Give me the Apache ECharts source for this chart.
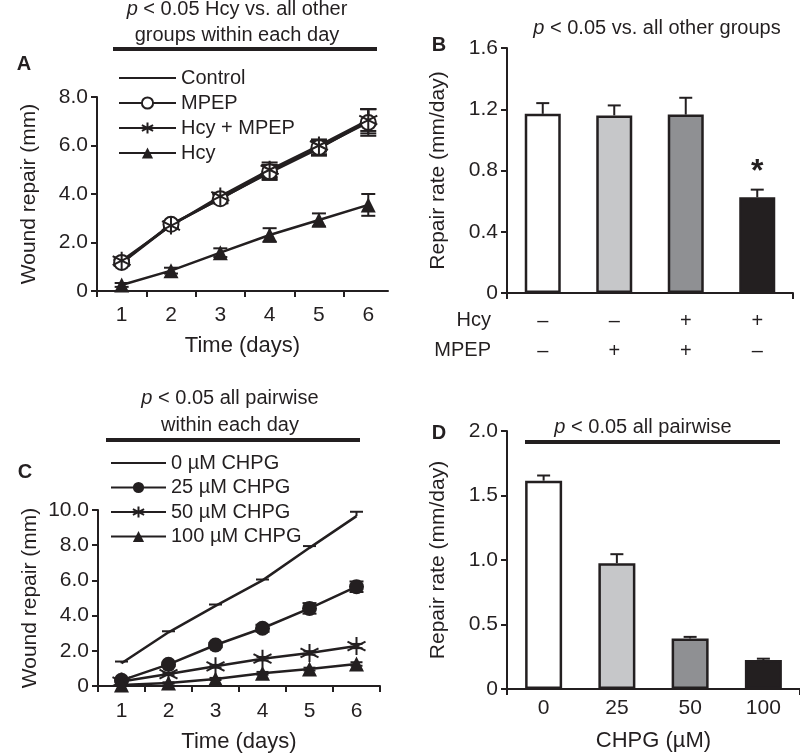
<!DOCTYPE html>
<html>
<head>
<meta charset="utf-8">
<script src="https://cdn.jsdelivr.net/npm/echarts@6/dist/echarts.min.js"></script>
<style>
  html, body { margin: 0; padding: 0; background: #fff; }
  #chart { width: 800px; height: 755px; }
</style>
</head>
<body>
<div id="chart"></div>
<script>
// ---- data ----
const days = [1, 2, 3, 4, 5, 6];

// panel A: wound repair (mm), mean and SE
const controlMean = [1.15, 2.72, 3.82, 4.88, 5.88, 7.0];
const controlErr = [0.12, 0.15, 0.2, 0.3, 0.3, 0.5];
const mpepMean = [1.18, 2.75, 3.8, 4.92, 5.92, 6.95];
const mpepErr = [0.1, 0.12, 0.18, 0.28, 0.28, 0.55];
const hcyMpepMean = [1.25, 2.7, 3.9, 5.0, 6.0, 7.05];
const hcyMpepErr = [0.12, 0.12, 0.15, 0.3, 0.25, 0.45];
const hcyMean = [0.25, 0.84, 1.58, 2.31, 2.93, 3.55];
const hcyErr = [0.08, 0.12, 0.18, 0.28, 0.27, 0.45];

// panel B: repair rate (mm/day)
const groupsB = ['g1', 'g2', 'g3', 'g4'];
const hcySigns = ['–', '–', '+', '+'];
const mpepSigns = ['–', '+', '+', '–'];
const rateB = [1.17, 1.16, 1.165, 0.625];
const rateBErr = [0.07, 0.065, 0.11, 0.05];

// panel C: wound repair with CHPG
const chpg0Mean = [1.29, 3.05, 4.55, 6.0, 7.85, 9.65];
const chpg0Err = [0.1, 0.06, 0.08, 0.05, 0.1, 0.25];
const chpg25Mean = [0.32, 1.23, 2.33, 3.28, 4.41, 5.64];
const chpg25Err = [0.08, 0.1, 0.12, 0.2, 0.3, 0.3];
const chpg50Mean = [0.25, 0.68, 1.12, 1.55, 1.88, 2.27];
const chpg50Err = [0.05, 0.06, 0.08, 0.1, 0.1, 0.12];
const chpg100Mean = [0.05, 0.17, 0.4, 0.72, 0.96, 1.25];
const chpg100Err = [0.03, 0.04, 0.06, 0.08, 0.08, 0.1];

// panel D: repair rate by CHPG dose
const dosesD = ['0', '25', '50', '100'];
const rateD = [1.615, 0.975, 0.392, 0.225];
const rateDErr = [0.04, 0.07, 0.012, 0.01];

const barColors = ['#ffffff', '#c6c7c9', '#8f9093', '#231f20'];

// ---- styling helpers ----
const ink = '#231f20';
const font = 'Liberation Sans, Arial, Helvetica, sans-serif';
const asterisk = 'path://M0 -10 L0 10 M-8.66 -5 L8.66 5 M-8.66 5 L8.66 -5';

const axisLabelStyle = { color: ink, fontSize: 21, fontFamily: font };
const axisLineStyle = { show: true, lineStyle: { color: ink, width: 2 } };
const tickStyle = { show: true, inside: false, length: 6, lineStyle: { color: ink, width: 2 } };
const xNameStyle = { color: ink, fontSize: 22, fontFamily: font };
const yNameStyle = { color: ink, fontSize: 21, fontFamily: font };

const fmtOne = v => (v === 0 ? '0' : v.toFixed(1));

function pairs(xs, ys) {
    return xs.map((x, i) => [x, ys[i]]);
}

function errData(xs, mean, err, both) {
    return xs.map((x, i) => [x, mean[i], err[i], both ? 1 : 0]);
}

function errorRender(capW, lw) {
    return function (params, api) {
        const m = api.value(1), e = api.value(2), both = api.value(3);
        const x = api.value(0);
        const top = api.coord([x, m + e]);
        const bot = api.coord([x, both ? m - e : m]);
        const st = { stroke: ink, lineWidth: lw };
        const children = [
            { type: 'line', shape: { x1: top[0], y1: top[1], x2: bot[0], y2: bot[1] }, style: st },
            { type: 'line', shape: { x1: top[0] - capW / 2, y1: top[1], x2: top[0] + capW / 2, y2: top[1] }, style: st }
        ];
        if (both) {
            children.push({ type: 'line', shape: { x1: bot[0] - capW / 2, y1: bot[1], x2: bot[0] + capW / 2, y2: bot[1] }, style: st });
        }
        return { type: 'group', children };
    };
}

function errSeries(name, idx, data, capW) {
    return {
        name, type: 'custom', xAxisIndex: idx, yAxisIndex: idx,
        renderItem: errorRender(capW, 2), data, z: 1, silent: true,
        encode: { x: 0, y: 1 }
    };
}

function lineSeries(name, idx, ys, symbol, size, width, extra) {
    return Object.assign({
        name, type: 'line', xAxisIndex: idx, yAxisIndex: idx,
        data: pairs(days, ys),
        symbol, symbolSize: size, showSymbol: symbol !== 'none',
        lineStyle: { color: ink, width },
        itemStyle: { color: ink, borderColor: ink, borderWidth: 0 },
        z: 3, animation: false
    }, extra || {});
}

const italicRich = {
    i: { fontStyle: 'italic', fontSize: 20, fontFamily: font, fill: ink },
    n: { fontSize: 20, fontFamily: font, fill: ink }
};

function titleText(x, y, str) {
    return {
        type: 'text', x, y,
        style: { text: str, fontSize: 20, fontFamily: font, fill: ink, align: 'center', verticalAlign: 'middle', rich: italicRich }
    };
}

function rule(x1, x2, y) {
    return { type: 'line', shape: { x1, y1: y, x2, y2: y }, style: { stroke: ink, lineWidth: 4 } };
}

function panelLetter(x, y, s) {
    return {
        type: 'text', x, y,
        style: { text: s, fontSize: 20, fontWeight: 'bold', fontFamily: font, fill: ink, align: 'center', verticalAlign: 'middle' }
    };
}

// legend entry for the series drawn without markers: keep only the line
const noMarker = { color: 'rgba(0,0,0,0)', borderWidth: 0 };

const option = {
    backgroundColor: '#fff',
    animation: false,
    textStyle: { fontFamily: font, color: ink },
    grid: [
        { left: 97, top: 97, width: 291, height: 194, outerBoundsMode: 'none' },
        { left: 507, top: 48, width: 286, height: 245, outerBoundsMode: 'none' },
        { left: 98, top: 510, width: 282, height: 176, outerBoundsMode: 'none' },
        { left: 507, top: 431, width: 293, height: 258, outerBoundsMode: 'none' }
    ],
    xAxis: [
        {
            gridIndex: 0, type: 'value', min: 0.5, max: 6.4,
            name: 'Time (days)', nameLocation: 'middle', nameGap: 44,
            nameTextStyle: xNameStyle,
            axisLine: axisLineStyle, splitLine: { show: false },
            axisTick: Object.assign({}, tickStyle, { customValues: [0.5, 1.5, 2.5, 3.5, 4.5, 5.5] }),
            axisLabel: Object.assign({}, axisLabelStyle, { margin: 14, customValues: days })
        },
        {
            gridIndex: 1, type: 'category', data: groupsB, boundaryGap: true,
            axisLine: axisLineStyle,
            axisTick: Object.assign({}, tickStyle, { interval: (i) => i === 0 }),
            axisLabel: {
                margin: 13, interval: 0,
                formatter: (v, i) => hcySigns[i] + '\n' + mpepSigns[i],
                color: ink, fontSize: 20, fontFamily: font, lineHeight: 30
            }
        },
        {
            gridIndex: 2, type: 'value', min: 0.5, max: 6.5,
            name: 'Time (days)', nameLocation: 'middle', nameGap: 45,
            nameTextStyle: xNameStyle,
            axisLine: axisLineStyle, splitLine: { show: false },
            axisTick: Object.assign({}, tickStyle, { customValues: [0.5, 1.5, 2.5, 3.5, 4.5, 5.5, 6.5] }),
            axisLabel: Object.assign({}, axisLabelStyle, { margin: 15, customValues: days })
        },
        {
            gridIndex: 3, type: 'category', data: dosesD, boundaryGap: true,
            name: 'CHPG (µM)', nameLocation: 'middle', nameGap: 41,
            nameTextStyle: xNameStyle,
            axisLine: axisLineStyle,
            axisTick: Object.assign({}, tickStyle, { interval: (i) => i === 0 }),
            axisLabel: Object.assign({}, axisLabelStyle, { margin: 9, interval: 0 })
        }
    ],
    yAxis: [
        {
            gridIndex: 0, type: 'value', min: 0, max: 8, interval: 2,
            name: 'Wound repair (mm)', nameLocation: 'middle', nameGap: 57,
            nameTextStyle: yNameStyle,
            axisLine: axisLineStyle, axisTick: tickStyle, splitLine: { show: false },
            axisLabel: Object.assign({}, axisLabelStyle, { margin: 9, formatter: fmtOne })
        },
        {
            gridIndex: 1, type: 'value', min: 0, max: 1.6, interval: 0.4,
            name: 'Repair rate (mm/day)', nameLocation: 'middle', nameGap: 58,
            nameTextStyle: yNameStyle,
            axisLine: axisLineStyle, axisTick: tickStyle, splitLine: { show: false },
            axisLabel: Object.assign({}, axisLabelStyle, { margin: 9, formatter: fmtOne })
        },
        {
            gridIndex: 2, type: 'value', min: 0, max: 10, interval: 2,
            name: 'Wound repair (mm)', nameLocation: 'middle', nameGap: 57,
            nameTextStyle: yNameStyle,
            axisLine: axisLineStyle, axisTick: tickStyle, splitLine: { show: false },
            axisLabel: Object.assign({}, axisLabelStyle, { margin: 9, formatter: fmtOne })
        },
        {
            gridIndex: 3, type: 'value', min: 0, max: 2, interval: 0.5,
            name: 'Repair rate (mm/day)', nameLocation: 'middle', nameGap: 58,
            nameTextStyle: yNameStyle,
            axisLine: axisLineStyle, axisTick: tickStyle, splitLine: { show: false },
            axisLabel: Object.assign({}, axisLabelStyle, { margin: 9, formatter: fmtOne })
        }
    ],
    legend: [
        {
            data: [
                { name: 'Control', itemStyle: noMarker },
                'MPEP', 'Hcy + MPEP', 'Hcy'
            ],
            orient: 'vertical', left: 113, top: 63,
            itemWidth: 57, itemHeight: 14, itemGap: 5, selectedMode: false,
            textStyle: { color: ink, fontSize: 20, fontFamily: font, lineHeight: 20 }
        },
        {
            data: [
                { name: '0 µM CHPG', itemStyle: noMarker },
                '25 µM CHPG', '50 µM CHPG', '100 µM CHPG'
            ],
            orient: 'vertical', left: 105, top: 448,
            itemWidth: 55, itemHeight: 14, itemGap: 4.5, selectedMode: false,
            textStyle: { color: ink, fontSize: 20, fontFamily: font, lineHeight: 20 }
        }
    ],
    series: [
        // panel A
        errSeries('errControl', 0, errData(days, controlMean, controlErr, true), 16),
        errSeries('errMpep', 0, errData(days, mpepMean, mpepErr, true), 16),
        errSeries('errHcyMpep', 0, errData(days, hcyMpepMean, hcyMpepErr, true), 16),
        errSeries('errHcy', 0, errData(days, hcyMean, hcyErr, true), 14),
        lineSeries('Control', 0, controlMean, 'none', 0, 2.5),
        lineSeries('MPEP', 0, mpepMean, 'emptyCircle', 15, 2.5, {
            itemStyle: { color: ink, borderColor: ink, borderWidth: 2 }
        }),
        lineSeries('Hcy + MPEP', 0, hcyMpepMean, asterisk, 18, 2.5, {
            itemStyle: { color: ink, borderColor: ink, borderWidth: 2 }
        }),
        lineSeries('Hcy', 0, hcyMean, 'triangle', 15, 2.5),

        // panel B
        errSeries('errB', 1, errData([0, 1, 2, 3], rateB, rateBErr, false), 13),
        {
            name: 'rateB', type: 'bar', xAxisIndex: 1, yAxisIndex: 1, barWidth: 36, z: 2,
            data: rateB.map((v, i) => ({
                value: v,
                itemStyle: { color: barColors[i], borderColor: ink, borderWidth: 2.5 },
                label: i === 3 ? {
                    show: true, position: 'top', distance: 9, formatter: '*',
                    fontSize: 32, fontWeight: 'bold', color: ink, fontFamily: font
                } : { show: false }
            }))
        },

        // panel C
        errSeries('err0', 2, errData(days, chpg0Mean, chpg0Err, false), 13),
        errSeries('err25', 2, errData(days, chpg25Mean, chpg25Err, true), 14),
        errSeries('err50', 2, errData(days, chpg50Mean, chpg50Err, true), 12),
        errSeries('err100', 2, errData(days, chpg100Mean, chpg100Err, true), 12),
        lineSeries('0 µM CHPG', 2, chpg0Mean, 'none', 0, 2.5),
        lineSeries('25 µM CHPG', 2, chpg25Mean, 'circle', 15, 2.5),
        lineSeries('50 µM CHPG', 2, chpg50Mean, asterisk, 18, 2.5, {
            itemStyle: { color: ink, borderColor: ink, borderWidth: 2 }
        }),
        lineSeries('100 µM CHPG', 2, chpg100Mean, 'triangle', 15, 2.5),

        // panel D
        errSeries('errD', 3, errData([0, 1, 2, 3], rateD, rateDErr, false), 13),
        {
            name: 'rateD', type: 'bar', xAxisIndex: 3, yAxisIndex: 3, barWidth: 37, z: 2,
            data: rateD.map((v, i) => ({
                value: v,
                itemStyle: { color: barColors[i], borderColor: ink, borderWidth: 2.5 }
            }))
        }
    ],
    graphic: [
        titleText(237, 9, '{i|p}{n| < 0.05 Hcy vs. all other}'),
        titleText(237, 35, '{n|groups within each day}'),
        rule(113, 377, 49),
        panelLetter(24, 64, 'A'),

        titleText(657, 28, '{i|p}{n| < 0.05 vs. all other groups}'),
        panelLetter(439, 45, 'B'),
        {
            type: 'text', x: 491, y: 320,
            style: { text: 'Hcy', fontSize: 20, fontFamily: font, fill: ink, align: 'right', verticalAlign: 'middle' }
        },
        {
            type: 'text', x: 491, y: 350,
            style: { text: 'MPEP', fontSize: 20, fontFamily: font, fill: ink, align: 'right', verticalAlign: 'middle' }
        },

        titleText(230, 398, '{i|p}{n| < 0.05 all pairwise}'),
        titleText(230, 425, '{n|within each day}'),
        rule(106, 360, 440),
        panelLetter(25, 472, 'C'),

        titleText(643, 427, '{i|p}{n| < 0.05 all pairwise}'),
        rule(525, 780, 442),
        panelLetter(439, 433, 'D')
    ]
};

const chart = echarts.init(document.getElementById('chart'));
chart.setOption(option);
</script>
</body>
</html>
